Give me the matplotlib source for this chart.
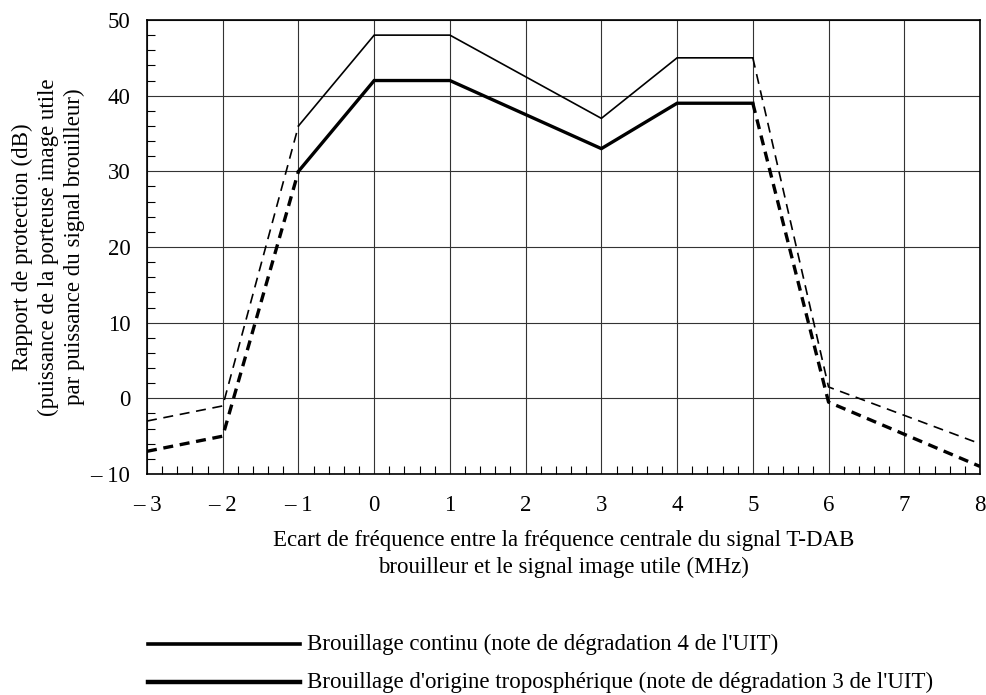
import numpy as np
import matplotlib
matplotlib.use("Agg")
import matplotlib.pyplot as plt
import matplotlib.ticker as ticker
from matplotlib.lines import Line2D

plt.rcParams['font.family'] = ['Liberation Serif', 'DejaVu Serif']

# frequency offset (MHz) and protection ratio (dB)
x_core = [-1, 0, 1, 3, 4, 5]
cont_core = [36, 48, 48, 37, 45, 45]     # continuous interference (grade 4)
trop_core = [30, 42, 42, 33, 39, 39]     # tropospheric interference (grade 3)

x_low = [-3, -2, -1]
cont_low = [-3, -1, 36]
trop_low = [-7, -5, 30]

x_high = [5, 6, 8]
cont_high = [45, 1.5, -6]
trop_high = [39, -0.5, -9]

xticks = list(range(-3, 9))
xticklabels = [('\u2013 %d' % -v) if v < 0 else str(v) for v in xticks]
yticks = list(range(-10, 51, 10))
yticklabels = [('\u2013 %d' % -v) if v < 0 else str(v) for v in yticks]

legend_labels = ["Brouillage continu (note de dégradation 4 de l'UIT)",
                 "Brouillage d'origine troposphérique (note de dégradation 3 de l'UIT)"]

fig = plt.figure(figsize=(9.86, 6.95), dpi=100)
ax = fig.add_axes([147/986, 1-474/695, (980-147)/986, (474-20)/695])

thin, thick = 1.2, 2.4
ax.plot(x_core, cont_core, color='black', lw=thin, solid_joinstyle='miter')
ax.plot(x_core, trop_core, color='black', lw=thick, solid_joinstyle='miter')
ax.plot(x_low, cont_low, color='black', lw=thin, dashes=(6, 4))
ax.plot(x_low, trop_low, color='black', lw=thick, dashes=(3, 2))
ax.plot(x_high, cont_high, color='black', lw=thin, dashes=(6, 4))
ax.plot(x_high, trop_high, color='black', lw=thick, dashes=(3, 2))

ax.set_xlim(-3, 8)
ax.set_ylim(-10, 50)
ax.set_xticks(xticks)
ax.set_xticklabels(xticklabels)
ax.set_yticks(yticks)
ax.set_yticklabels(yticklabels)
ax.xaxis.set_minor_locator(ticker.MultipleLocator(0.2))
ax.yaxis.set_minor_locator(ticker.MultipleLocator(2))
ax.tick_params(which='major', length=0, labelsize=16.5)
ax.tick_params(axis='x', which='major', pad=15)
ax.tick_params(axis='y', which='major', pad=12)
ax.tick_params(which='minor', direction='in', length=6, width=0.8, color='black')
ax.grid(True, which='major', color='#333333', lw=0.8)
for s in ax.spines.values():
    s.set_linewidth(1.2)

ax.set_xlabel("Ecart de fréquence entre la fréquence centrale du signal T-DAB\nbrouilleur et le signal image utile (MHz)",
              fontsize=16.5, linespacing=1.35, labelpad=10)
ax.set_ylabel("Rapport de protection (dB)\n(puissance de la porteuse image utile\npar puissance du signal brouilleur)",
              fontsize=16.5, linespacing=1.3, labelpad=4)

# legend drawn below the plot
for i, lab in enumerate(legend_labels):
    y = 1 - (644 + 38 * i) / 695
    fig.add_artist(Line2D([148/986, 300/986], [y, y], color='black', lw=2.6 + 0.6 * i,
                          transform=fig.transFigure))
    fig.text(307/986, y, lab, fontsize=16.5, va='center', ha='left')

fig.savefig('out.png', dpi=100)
